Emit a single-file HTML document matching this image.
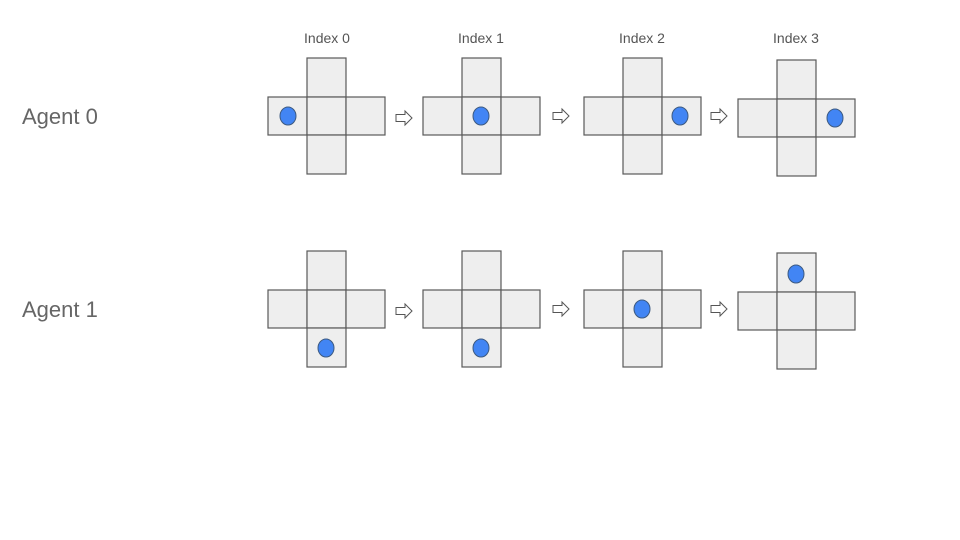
<!DOCTYPE html>
<html><head><meta charset="utf-8"><style>body{margin:0;background:#fff}svg{display:block}</style></head><body>
<svg width="960" height="540" xmlns="http://www.w3.org/2000/svg" font-family="Liberation Sans, Arial, sans-serif">
<defs>
<g id="cross">
<rect x="39" y="0" width="39" height="39"/>
<rect x="0" y="39" width="39" height="38"/>
<rect x="39" y="39" width="39" height="38"/>
<rect x="78" y="39" width="39" height="38"/>
<rect x="39" y="77" width="39" height="39"/>
</g>
<path id="arr" d="M0,-3.5 H9 V-7 L16,0 L9,7 V3.5 H0 Z"/>
</defs>
<g fill="#666" font-size="22">
<text x="22" y="124">Agent 0</text>
<text x="22" y="317">Agent 1</text>
</g>
<g fill="#555" font-size="14" text-anchor="middle">
<text x="327" y="43">Index 0</text>
<text x="481" y="43">Index 1</text>
<text x="642" y="43">Index 2</text>
<text x="796" y="43">Index 3</text>
</g>
<g fill="#eeeeee" stroke="#595959" stroke-width="1.2">
<use href="#cross" x="268" y="58"/>
<use href="#cross" x="423" y="58"/>
<use href="#cross" x="584" y="58"/>
<use href="#cross" x="738" y="60"/>
<use href="#cross" x="268" y="251"/>
<use href="#cross" x="423" y="251"/>
<use href="#cross" x="584" y="251"/>
<use href="#cross" x="738" y="253"/>
</g>
<g fill="#fff" stroke="#555" stroke-width="1">
<use href="#arr" x="396" y="118"/>
<use href="#arr" x="553" y="116"/>
<use href="#arr" x="711" y="116"/>
<use href="#arr" x="396" y="311"/>
<use href="#arr" x="553" y="309"/>
<use href="#arr" x="711" y="309"/>
</g>
<g fill="#4285f4" stroke="#3d5a80" stroke-width="1">
<ellipse cx="288" cy="116" rx="8" ry="9"/>
<ellipse cx="481" cy="116" rx="8" ry="9"/>
<ellipse cx="680" cy="116" rx="8" ry="9"/>
<ellipse cx="835" cy="118" rx="8" ry="9"/>
<ellipse cx="326" cy="348" rx="8" ry="9"/>
<ellipse cx="481" cy="348" rx="8" ry="9"/>
<ellipse cx="642" cy="309" rx="8" ry="9"/>
<ellipse cx="796" cy="274" rx="8" ry="9"/>
</g>
</svg>
</body></html>
